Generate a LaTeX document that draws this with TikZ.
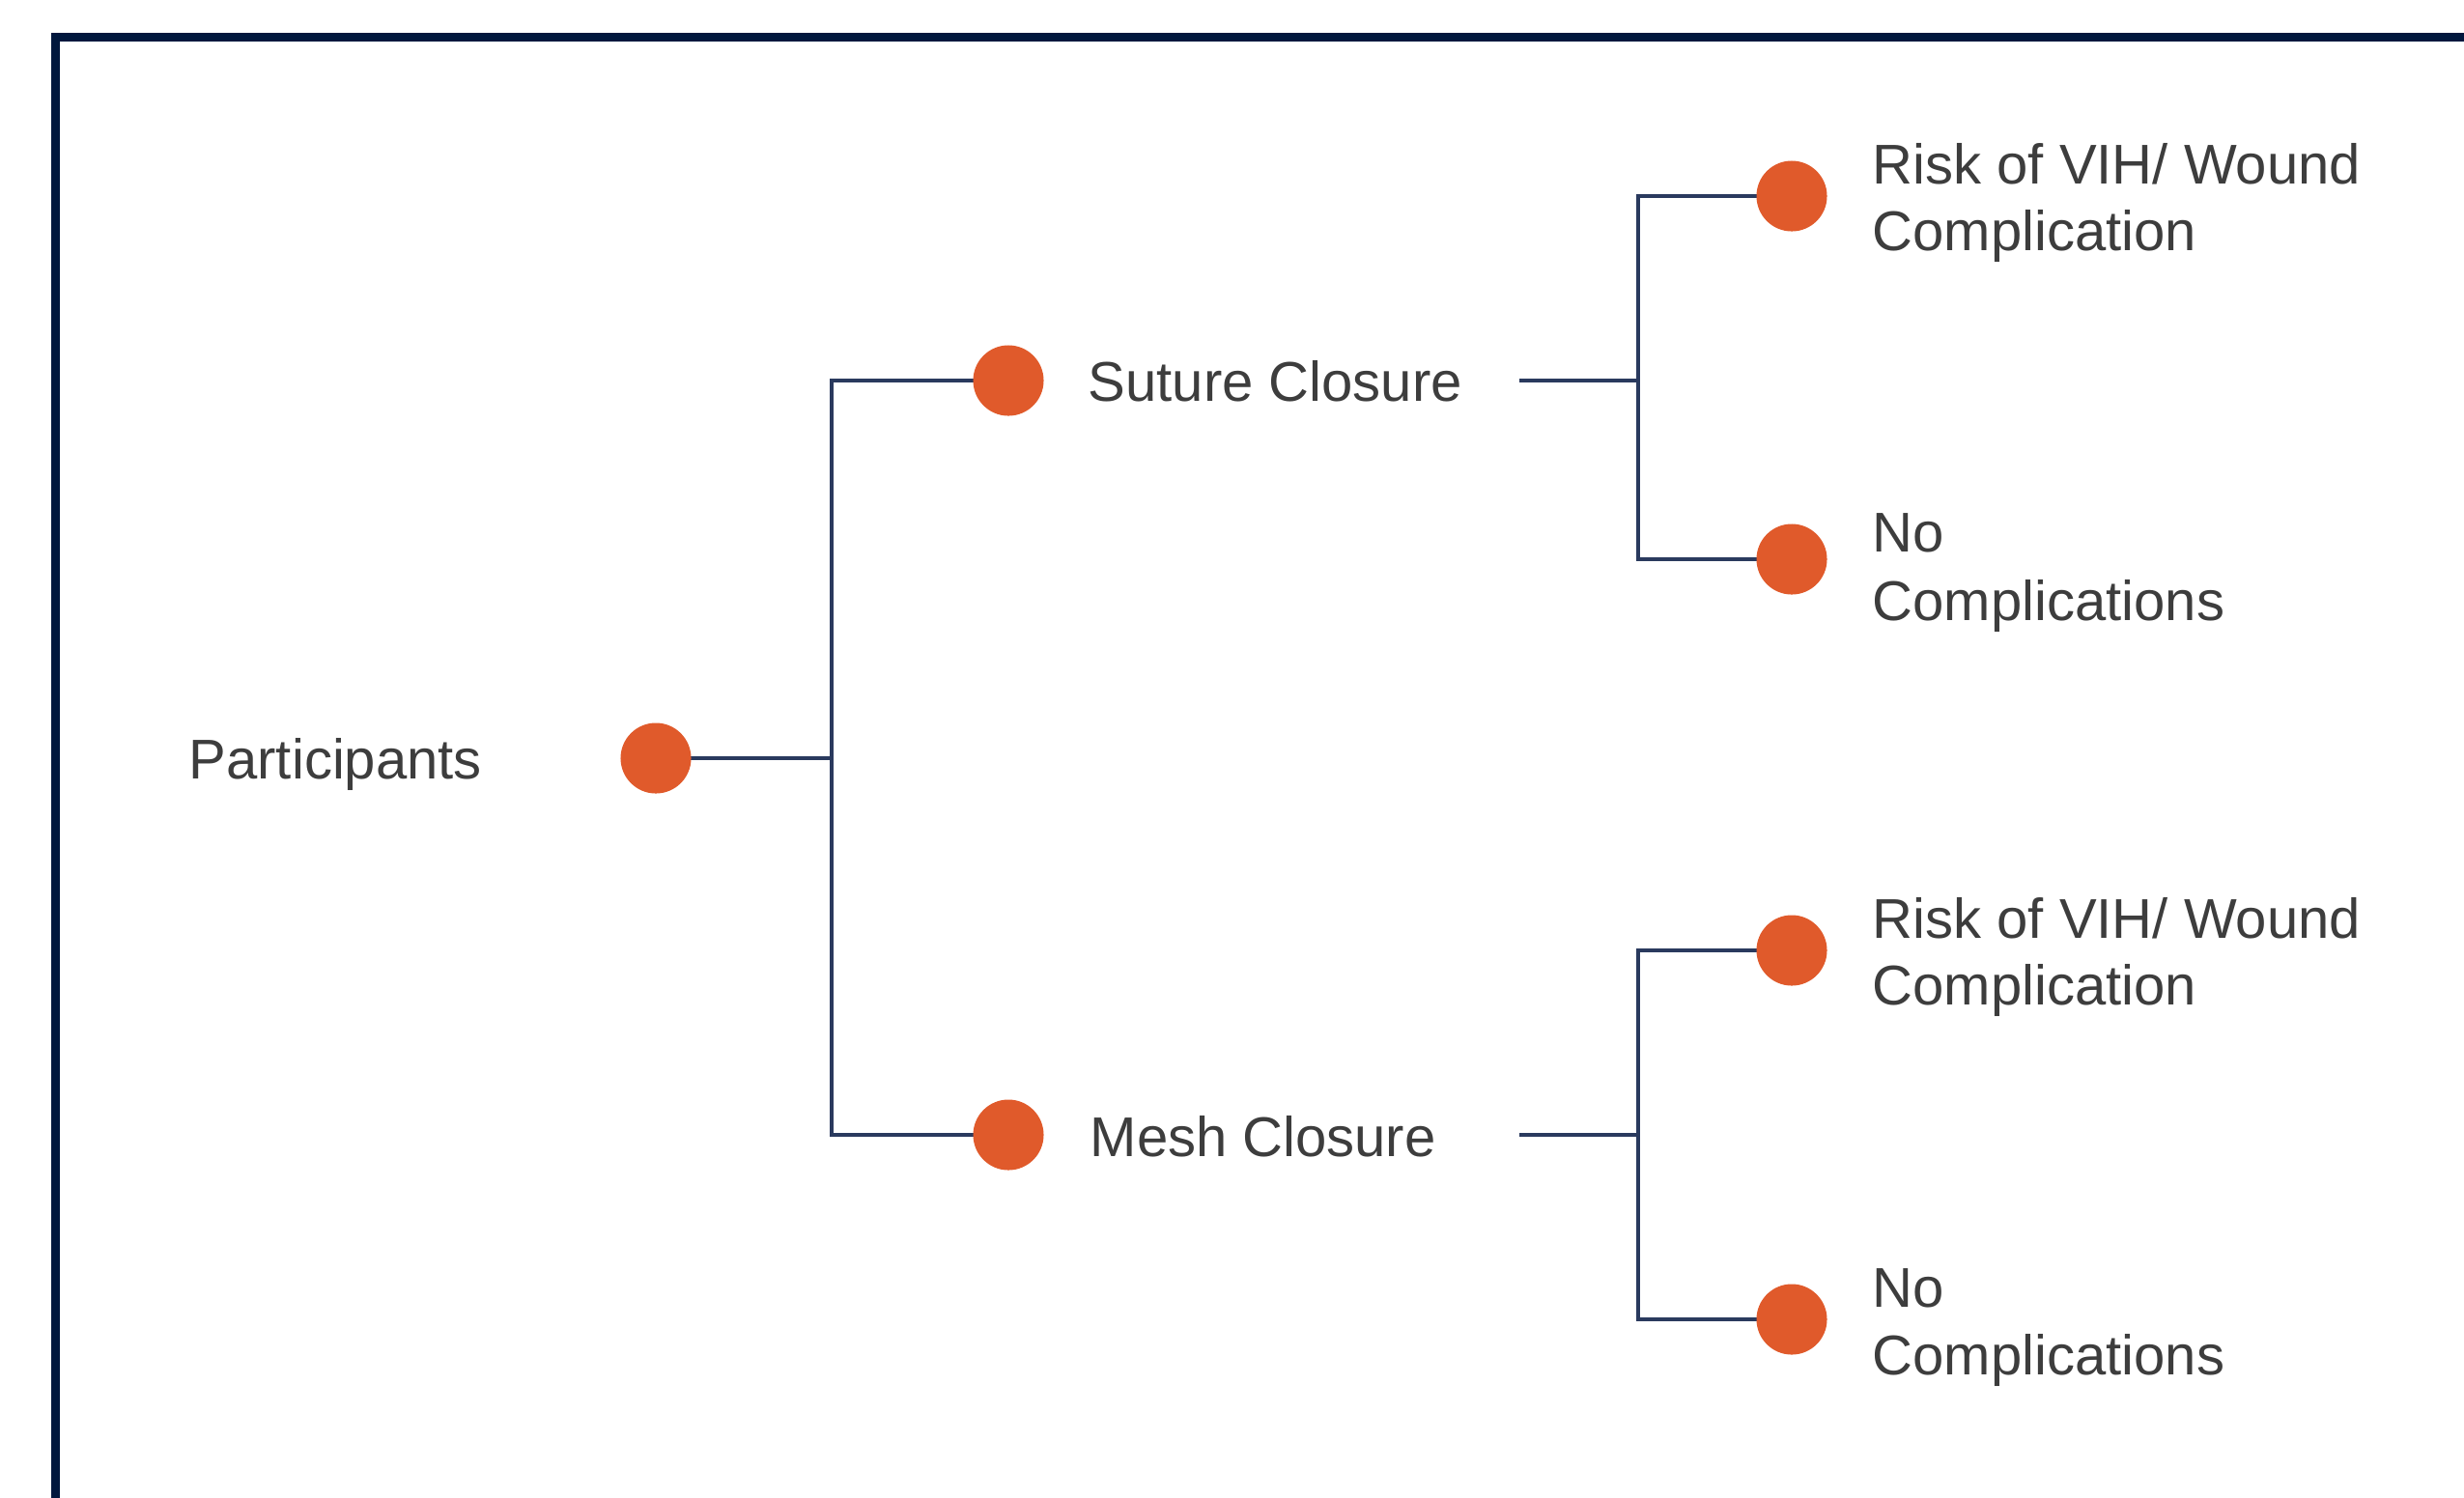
\documentclass[tikz,border=0pt]{standalone}
\usepackage{fontspec}
\setmainfont{Liberation Sans}
\usetikzlibrary{backgrounds}
\definecolor{dotc}{HTML}{E05A2B}
\definecolor{linec}{HTML}{2A3A5E}
\definecolor{framec}{HTML}{00173D}
\definecolor{textc}{HTML}{3D3D3D}
\begin{document}
\begin{tikzpicture}[x=0.01cm,y=-0.01cm,
  dot/.style={circle,fill=dotc,inner sep=0pt,minimum size=0.73cm},
  lbl/.style={anchor=base west,inner sep=0pt,text=textc,font=\fontsize{16.5}{19.8}\selectfont},
  conn/.style={draw=linec,line width=0.9pt},
  frame/.style={draw=framec,line width=2.3pt}]
\clip (0,0) rectangle (2551,1550);
\draw[frame] (57.5,38.5) rectangle (2700,1700);

% dots
\node[dot] (P) at (679,785) {};
\node[dot] (S) at (1044,394) {};
\node[dot] (M) at (1044,1175) {};
\node[dot] (S1) at (1855,203) {};
\node[dot] (S2) at (1855,579) {};
\node[dot] (M1) at (1855,984) {};
\node[dot] (M2) at (1855,1366) {};

% labels
\node[lbl] (tP) at (195,806) {Participants};
\node[lbl] (tS) at (1126,415) {Suture Closure};
\node[lbl] (tM) at (1128,1197) {Mesh Closure};
\node[lbl] (tS1a) at (1938,190) {Risk of VIH/ Wound};
\node[lbl] (tS1b) at (1938,259) {Complication};
\node[lbl] (tS2a) at (1938,571) {No};
\node[lbl] (tS2b) at (1938,642) {Complications};
\node[lbl] (tM1a) at (1938,971) {Risk of VIH/ Wound};
\node[lbl] (tM1b) at (1938,1040) {Complication};
\node[lbl] (tM2a) at (1938,1353) {No};
\node[lbl] (tM2b) at (1938,1423) {Complications};

% junctions
\coordinate (j0) at (861,785);
\coordinate (sj) at (1573,394);
\coordinate (sk) at (1696,394);
\coordinate (mj) at (1573,1175);
\coordinate (mk) at (1696,1175);

\begin{scope}[on background layer]
\draw[conn] (P.center) -- (j0);
\draw[conn] (S.center) -| (j0) |- (M.center);
\draw[conn] (sj) -- (sk);
\draw[conn] (S1.center) -| (sk) |- (S2.center);
\draw[conn] (mj) -- (mk);
\draw[conn] (M1.center) -| (mk) |- (M2.center);
\end{scope}
\end{tikzpicture}
\end{document}
